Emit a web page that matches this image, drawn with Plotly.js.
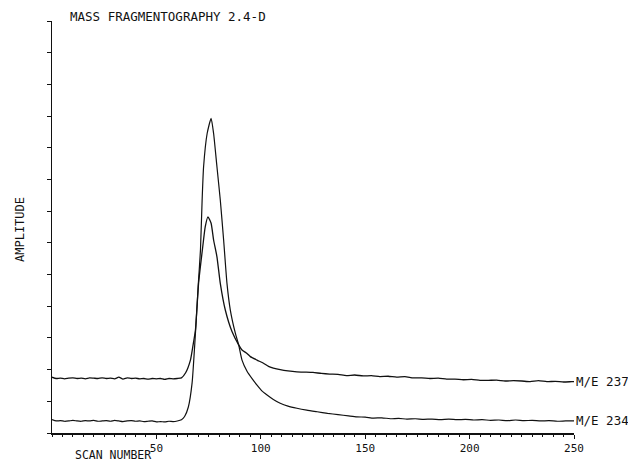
<!DOCTYPE html>
<html>
<head>
<meta charset="utf-8">
<script src="https://cdn.plot.ly/plotly-3.0.1.min.js"></script>
<style>html,body{margin:0;padding:0;background:#fff;}#chart{width:628px;height:461px;}</style>
</head>
<body>
<div id="chart"></div>
<script>
// Series M/E 237 (upper baseline)
const scan237 = [0,2,4,6,8,10,12,14,16,18,20,22,24,26,28,30,32,34,36,38,40,42,44,46,48,50,52,54,56,58,60,62,
  64,66.3,67.5,68.7,70.2,72,73.4,74.7,76.2,77.4,79,80.6,83,86.2,89.4,91,93.4,95,98.2,101.3,103.7,106,109.3,113,117.3,121,125,129,133,137,141,145,149,153,157,161,165,169,173,177,181,185,189,193,197,201,205,209,213,217,221,225,229,233,237,241,245,249,250];
const amp237 = [1.76,1.72,1.73,1.71,1.73,1.74,1.72,1.73,1.71,1.74,1.73,1.72,1.74,1.72,1.73,1.71,1.76,1.70,1.74,1.72,1.73,1.71,1.72,1.70,1.72,1.71,1.72,1.69,1.72,1.71,1.72,1.74,
  1.90,2.30,2.75,3.25,4.73,5.77,6.51,6.82,6.62,6.09,5.56,4.72,3.88,3.20,2.78,2.62,2.51,2.41,2.30,2.20,2.10,2.05,2.00,1.96,1.93,1.92,1.91,1.88,1.86,1.85,1.81,1.83,1.80,1.81,1.78,1.79,1.76,1.78,1.74,1.74,1.72,1.73,1.70,1.70,1.68,1.69,1.66,1.66,1.67,1.64,1.65,1.64,1.62,1.65,1.62,1.63,1.61,1.62,1.62];

// Series M/E 234 (lower baseline)
const scan234 = [0,2,4,6,8,10,12,14,16,18,20,22,24,26,28,30,32,34,36,38,40,42,44,46,48,50,52,54,56,58,60,62,
  63.5,65.3,67.1,68.7,70.1,71.1,71.9,72.6,74.3,76.2,77.4,79,80.6,82.2,83.8,85.4,87.8,89.4,91,93.4,96,98.2,100.5,103,106,109.3,113,117.3,122,127,132,137,142,146,150,154,158,162,166,170,174,178,182,186,190,194,198,202,206,210,214,218,222,226,230,234,238,242,246,250];
const amp234 = [0.42,0.38,0.39,0.37,0.38,0.40,0.38,0.37,0.39,0.38,0.40,0.37,0.38,0.39,0.37,0.40,0.38,0.36,0.38,0.39,0.37,0.38,0.36,0.37,0.38,0.35,0.36,0.35,0.37,0.36,0.38,0.42,
  0.52,0.82,1.58,3.15,4.73,5.77,7.35,8.40,9.45,9.93,9.45,8.40,7.35,6.09,4.72,3.88,3.15,2.78,2.30,1.95,1.70,1.51,1.33,1.20,1.06,0.94,0.85,0.78,0.72,0.67,0.62,0.58,0.54,0.51,0.50,0.47,0.48,0.45,0.46,0.44,0.45,0.43,0.44,0.42,0.44,0.42,0.43,0.41,0.42,0.40,0.41,0.39,0.41,0.39,0.40,0.38,0.39,0.37,0.38,0.38];

const seriesNames = ["M/E 237", "M/E 234"];
const xTickVals = [50,100,150,200,250];
const xTickText = ["50","100","150","200","250"];
const yTickVals = [0,1,2,3,4,5,6,7,8,9,10,11,12,13];

const FONT = "DejaVu Sans Mono, monospace";

const traces = [
  {x: scan237, y: amp237, mode: "lines", name: seriesNames[0], line: {color: "#111", width: 1.3, shape: "spline", smoothing: 0.5}},
  {x: scan234, y: amp234, mode: "lines", name: seriesNames[1], line: {color: "#111", width: 1.2, shape: "spline", smoothing: 0.5}}
];

const layout = {
  width: 628, height: 461,
  paper_bgcolor: "#fff", plot_bgcolor: "#fff",
  margin: {l: 52, r: 54, t: 21, b: 28, pad: 0},
  showlegend: false,
  font: {family: FONT, color: "#111", size: 12},
  title: {text: "MASS FRAGMENTOGRAPHY 2.4-D", x: 70/628, xanchor: "left", xref: "container",
          y: 1 - 17/461, yanchor: "middle", yref: "container", font: {family: FONT, size: 12.5, color: "#111"}},
  xaxis: {
    range: [0, 250], showgrid: false, zeroline: false,
    showline: true, linecolor: "#111", linewidth: 1.6,
    ticks: "outside", ticklen: 4, tickcolor: "#111", tickwidth: 1,
    tickvals: xTickVals, ticktext: xTickText,
    tickfont: {family: FONT, size: 11, color: "#111"},
    minor: {dtick: 5, ticks: "outside", ticklen: 2, tickcolor: "#111", tickwidth: 1},
    title: {text: ""}
  },
  yaxis: {
    range: [0, 13], showgrid: false, zeroline: false,
    showline: true, linecolor: "#111", linewidth: 1,
    ticks: "outside", ticklen: 4, tickcolor: "#111", tickwidth: 1,
    tickvals: yTickVals, showticklabels: false,
    title: {text: ""}
  },
  annotations: [
    {text: "AMPLITUDE", xref: "paper", yref: "paper", x: 0, y: 0.5, xanchor: "center", yanchor: "middle",
     xshift: -32, yshift: -3, textangle: -90, showarrow: false, font: {family: FONT, size: 12, color: "#111"}},
    {text: "SCAN NUMBER", xref: "x", yref: "paper", x: 10, y: 0, xanchor: "left", yanchor: "middle",
     yshift: -22, showarrow: false, font: {family: FONT, size: 11.5, color: "#111"}},
    {text: seriesNames[0], xref: "x", yref: "y", x: scan237[scan237.length-1], y: amp237[amp237.length-1],
     xanchor: "left", yanchor: "middle", xshift: 0, showarrow: false, font: {family: FONT, size: 12.5, color: "#111"}},
    {text: seriesNames[1], xref: "x", yref: "y", x: scan234[scan234.length-1], y: amp234[amp234.length-1],
     xanchor: "left", yanchor: "middle", xshift: 0, showarrow: false, font: {family: FONT, size: 12.5, color: "#111"}}
  ]
};

Plotly.newPlot("chart", traces, layout, {staticPlot: true, displayModeBar: false});
</script>
</body>
</html>
